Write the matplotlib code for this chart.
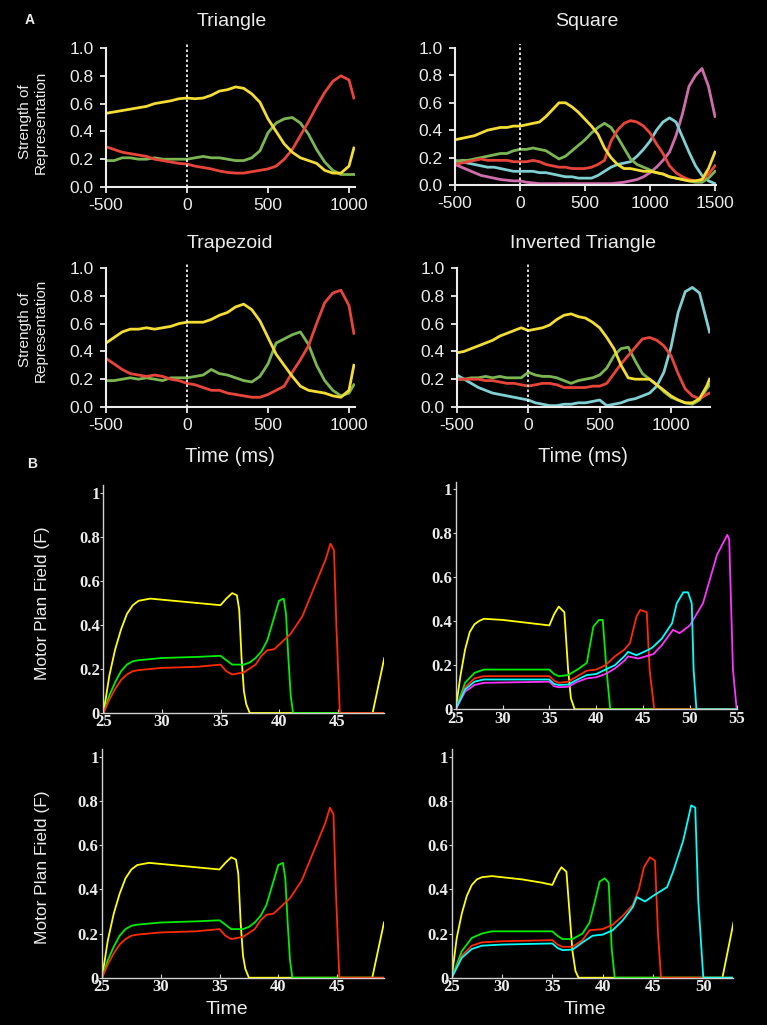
import matplotlib
matplotlib.use("Agg")
import matplotlib.pyplot as plt
import numpy as np

W, H = 767, 1025

# ---------------- Panel A data (time in ms) ----------------
tri_t = [-500, -450, -400, -350, -300, -250, -200, -150, -100, -50, 0, 50, 100, 150, 200, 250,
         300, 350, 400, 450, 500, 550, 600, 650, 700, 750, 800, 850, 900, 950, 1000, 1030]
tri_yellow = [.53, .54, .55, .56, .57, .58, .60, .61, .62, .635, .64, .635, .64, .66, .69, .70,
              .72, .71, .67, .61, .49, .40, .31, .25, .21, .19, .17, .12, .10, .10, .15, .28]
tri_red = [.29, .27, .25, .24, .23, .22, .20, .19, .18, .17, .165, .15, .14, .13, .115, .105,
           .10, .10, .11, .12, .13, .15, .20, .27, .37, .47, .58, .68, .76, .80, .77, .64]
tri_green = [.19, .19, .21, .21, .20, .20, .21, .20, .20, .20, .20, .21, .22, .21, .21, .20,
             .19, .19, .21, .26, .39, .46, .49, .50, .46, .38, .27, .18, .12, .09, .09, .09]

sq_t = [-500, -450, -400, -350, -300, -250, -200, -150, -100, -50, 0, 50, 100, 150, 200, 250,
        300, 350, 400, 450, 500, 550, 600, 650, 700, 750, 800, 850, 900, 950, 1000, 1050, 1100,
        1150, 1200, 1250, 1300, 1350, 1400, 1450, 1500]
sq_yellow = [.33, .34, .35, .36, .38, .40, .41, .42, .42, .43, .43, .44, .45, .46, .50, .55,
             .60, .60, .57, .53, .48, .43, .37, .27, .20, .15, .12, .12, .11, .10, .10, .09, .08,
             .06, .05, .04, .03, .03, .04, .12, .24]
sq_green = [.17, .18, .18, .19, .20, .21, .22, .23, .23, .25, .26, .26, .27, .26, .25, .22,
            .19, .21, .25, .29, .33, .38, .42, .45, .42, .35, .27, .19, .15, .13, .11, .09, .08,
            .06, .05, .04, .03, .02, .02, .05, .10]
sq_red = [.15, .16, .17, .18, .19, .18, .18, .18, .18, .17, .17, .17, .18, .17, .15, .14,
          .13, .13, .12, .12, .12, .13, .15, .18, .32, .40, .45, .47, .46, .43, .38, .30, .23,
          .14, .09, .06, .04, .03, .04, .08, .14]
sq_cyan = [.18, .17, .16, .15, .14, .13, .13, .12, .11, .10, .10, .10, .10, .09, .09, .08,
           .07, .06, .06, .05, .05, .05, .07, .10, .13, .15, .16, .17, .21, .26, .32, .40, .46,
           .49, .46, .35, .24, .14, .07, .03, .01]
sq_magenta = [.15, .13, .11, .09, .07, .06, .05, .04, .035, .03, .03, .02, .015, .01, .01, .01,
              .01, .01, .01, .01, .01, .01, .01, .01, .01, .015, .02, .03, .04, .06, .09, .13, .18,
              .24, .36, .52, .72, .80, .85, .72, .50]

trap_t = tri_t
trap_yellow = [.46, .50, .54, .56, .56, .57, .56, .57, .58, .60, .61, .61, .61, .63, .66, .68,
               .72, .74, .70, .62, .50, .38, .30, .22, .15, .12, .11, .10, .08, .07, .12, .30]
trap_red = [.35, .31, .27, .24, .23, .22, .23, .22, .20, .19, .17, .16, .14, .12, .12, .10,
            .09, .08, .07, .07, .09, .12, .15, .25, .34, .44, .60, .75, .82, .84, .73, .53]
trap_green = [.19, .19, .20, .21, .20, .21, .20, .19, .21, .21, .21, .22, .23, .27, .24, .23,
              .21, .19, .18, .22, .31, .46, .49, .52, .54, .45, .30, .19, .12, .08, .10, .16]

inv_t = [-500, -450, -400, -350, -300, -250, -200, -150, -100, -50, 0, 50, 100, 150, 200, 250,
         300, 350, 400, 450, 500, 550, 600, 650, 700, 750, 800, 850, 900, 950, 1000, 1050, 1100,
         1150, 1200, 1250, 1270]
inv_yellow = [.39, .40, .42, .44, .46, .48, .51, .53, .55, .57, .55, .56, .57, .59, .63, .66,
              .67, .65, .64, .61, .57, .50, .42, .30, .21, .20, .20, .20, .16, .12, .08, .05, .03,
              .03, .06, .15, .20]
inv_green = [.20, .20, .21, .21, .22, .21, .22, .21, .21, .21, .25, .23, .22, .22, .21, .19,
             .17, .19, .20, .21, .23, .28, .37, .42, .43, .33, .24, .20, .16, .11, .07, .05, .03,
             .02, .05, .13, .16]
inv_red = [.20, .20, .20, .20, .19, .19, .18, .17, .17, .16, .15, .16, .17, .17, .16, .14,
           .14, .14, .14, .15, .15, .17, .24, .31, .37, .43, .49, .50, .48, .44, .37, .24, .13,
           .08, .06, .09, .10]
inv_cyan = [.23, .20, .17, .14, .12, .10, .09, .08, .07, .06, .05, .03, .02, .01, .01, .02,
            .02, .03, .03, .04, .05, .01, .02, .03, .05, .06, .08, .10, .15, .25, .43, .68, .83,
            .86, .82, .62, .54]

a_xticks = [-500, 0, 500, 1000]
a_xticks_sq = [-500, 0, 500, 1000, 1500]
a_yticks = [0.0, 0.2, 0.4, 0.6, 0.8, 1.0]
a_titles = ['Triangle', 'Square', 'Trapezoid', 'Inverted Triangle']

# ---------------- Panel B data (model time) ----------------
m1_yellow_x = [25, 25.5, 26, 26.5, 27, 27.5, 28, 29, 30, 32, 34, 35, 35.5, 36, 36.4, 36.6, 36.8,
               37.0, 37.2, 37.5, 48.0, 49.0]
m1_yellow_y = [0, .17, .29, .38, .45, .49, .51, .52, .515, .505, .495, .49, .52, .545, .535, .47,
               .25, .10, .04, 0, 0, .25]
m1_green_x = [25, 25.5, 26, 26.5, 27, 27.5, 28, 30, 33, 35, 35.5, 36, 37, 37.5, 38, 38.5, 39,
              39.5, 40, 40.4, 40.6, 40.8, 41.0, 41.2, 49]
m1_green_y = [0, .08, .14, .19, .22, .235, .24, .25, .255, .26, .24, .22, .22, .23, .25, .28, .33,
              .42, .51, .52, .45, .25, .08, 0, 0]
m1_red_x = [25, 25.5, 26, 26.5, 27, 27.5, 28, 30, 33, 35, 35.5, 36, 37, 38, 38.5, 39, 39.6, 40,
            41, 42, 43, 44, 44.4, 44.7, 44.9, 45.2, 49]
m1_red_y = [0, .06, .11, .15, .175, .19, .195, .205, .21, .22, .19, .175, .185, .22, .26, .285, .29,
            .31, .36, .44, .57, .70, .77, .74, .40, 0, 0]

m2_yellow_x = [25, 25.5, 26, 26.5, 27, 27.5, 28, 30, 33, 35, 35.5, 36, 36.6, 37.0, 37.3, 37.7, 55]
m2_yellow_y = [0, .15, .27, .35, .385, .40, .41, .405, .39, .38, .43, .465, .44, .18, .05, 0, 0]
m2_green_x = [25, 26, 27, 28, 30, 35, 35.5, 36, 37, 38, 39, 39.7, 40.3, 40.7, 41.1, 41.5, 55]
m2_green_y = [0, .12, .165, .18, .18, .18, .16, .15, .155, .18, .21, .375, .405, .405, .18, 0, 0]
m2_red_x = [25, 26, 27, 28, 30, 35, 35.5, 36, 37, 38, 39, 40, 41, 42, 43, 43.6, 44.3, 44.7, 45.4,
            45.7, 46.2, 55]
m2_red_y = [0, .10, .14, .15, .15, .15, .13, .12, .125, .15, .175, .18, .20, .24, .27, .30, .42,
            .45, .44, .18, 0, 0]
m2_cyan_x = [25, 26, 27, 28, 35, 35.5, 36, 37, 38, 39, 40, 41, 42, 43, 43.4, 44.3, 45.6, 46, 47,
             48.1, 48.6, 49.3, 49.8, 50.2, 50.4, 50.7, 55]
m2_cyan_y = [0, .09, .125, .135, .135, .115, .11, .112, .135, .155, .16, .18, .20, .24, .26, .245,
             .27, .28, .32, .39, .48, .53, .53, .48, .18, 0, 0]
m2_magenta_x = [25, 26, 27, 28, 35, 35.5, 36, 37, 38, 39, 40, 41, 42, 43, 43.4, 44.5, 46.1, 47,
                48.2, 48.9, 50, 51.4, 52.9, 54, 54.2, 54.6, 55]
m2_magenta_y = [0, .08, .11, .12, .125, .105, .10, .102, .125, .14, .145, .16, .185, .22, .24, .23,
                .25, .29, .36, .345, .38, .48, .70, .79, .77, .18, 0]

m4_yellow_x = [25, 25.5, 26, 26.5, 27, 27.5, 28, 29, 30, 32, 34, 35, 35.5, 35.9, 36.4, 36.7, 37.0,
               37.3, 37.6, 51.9, 53]
m4_yellow_y = [0, .18, .29, .37, .42, .445, .455, .46, .455, .445, .43, .42, .47, .50, .48, .30,
               .12, .03, 0, 0, .25]
m4_green_x = [25, 26, 27, 28, 29, 35, 35.5, 36, 37, 38, 38.7, 39.2, 39.7, 40.2, 40.6, 40.9, 41.2, 53]
m4_green_y = [0, .12, .18, .20, .21, .21, .19, .175, .175, .20, .25, .34, .435, .45, .43, .13, 0, 0]
m4_red_x = [25, 26, 27, 28, 30, 35, 35.5, 36, 37, 38, 38.7, 40, 41, 42, 43, 43.6, 44.1, 44.7, 45.2,
            45.5, 45.8, 53]
m4_red_y = [0, .10, .145, .16, .165, .17, .15, .14, .14, .17, .215, .22, .24, .28, .33, .40, .50,
            .545, .53, .20, 0, 0]
m4_cyan_x = [25, 26, 27, 28, 30, 35, 35.5, 36, 37, 38, 39, 40, 41, 42, 43, 43.4, 44.2, 45, 46.4,
             47, 48, 48.8, 49.2, 49.5, 50.0, 53]
m4_cyan_y = [0, .09, .13, .145, .15, .155, .135, .125, .127, .16, .19, .195, .215, .26, .32, .365,
             .345, .37, .41, .48, .62, .78, .77, .35, 0, 0]

b_yticks = [0, 0.2, 0.4, 0.6, 0.8, 1]
b_yticklabels = ['0', '0.2', '0.4', '0.6', '0.8', '1']

# ---------------- styles ----------------
A_COL = {'yellow': '#f3dd33', 'red': '#e8453a', 'green': '#7cb653',
         'cyan': '#7fcfd3', 'magenta': '#cf6dac'}
B_COL = {'yellow': '#ffff00', 'red': '#ff2a00', 'green': '#00ee00',
         'cyan': '#00ffff', 'magenta': '#ff33ff'}
FG = '#ececec'
SANS = ['Liberation Sans', 'DejaVu Sans']
SERIF = ['Liberation Serif', 'DejaVu Serif']

plt.rcParams['font.family'] = SANS

fig = plt.figure(figsize=(W / 100, H / 100), dpi=100, facecolor='black')


def ftext(px, py, s, **kw):
    fig.text(px / W, 1 - py / H, s, color=FG, ha='center', va='center', **kw)


def axes_px(xa, pa, xb, pb, xlim, ya, qa, yb, qb, ylim):
    sx = (pb - pa) / (xb - xa)
    left = pa + (xlim[0] - xa) * sx
    right = pa + (xlim[1] - xa) * sx
    sy = (qb - qa) / (yb - ya)
    top = qa + (ylim[1] - ya) * sy
    bottom = qa + (ylim[0] - ya) * sy
    ax = fig.add_axes([left / W, 1 - bottom / H, (right - left) / W, (bottom - top) / H])
    ax.set_xlim(*xlim)
    ax.set_ylim(*ylim)
    ax.set_facecolor('black')
    return ax


def style_a(ax, xticks):
    for s in ['top', 'right']:
        ax.spines[s].set_visible(False)
    for s in ['left', 'bottom']:
        ax.spines[s].set_color(FG)
        ax.spines[s].set_linewidth(1.5)
    ax.set_xticks(xticks)
    ax.set_xticklabels([str(v) for v in xticks])
    ax.set_yticks(a_yticks)
    ax.set_yticklabels(['%.1f' % v for v in a_yticks])
    ax.tick_params(colors=FG, labelcolor=FG, labelsize=12.5, direction='out', length=4,
                   width=1.3)
    ax.tick_params(axis='y', pad=5)
    ax.tick_params(axis='x', pad=4)
    ax.axvline(0, color='white', lw=1.2, ls=(0, (1.5, 1.5)), ymin=0, ymax=1.03, clip_on=False)


def style_b(ax, xticks):
    for s in ['top', 'right']:
        ax.spines[s].set_visible(False)
    for s in ['left', 'bottom']:
        ax.spines[s].set_color('#d0d0d0')
        ax.spines[s].set_linewidth(1.0)
    ax.set_xticks(xticks)
    ax.set_xticklabels([str(v) for v in xticks], family=SERIF, weight='bold')
    ax.set_yticks(b_yticks)
    ax.set_yticklabels(b_yticklabels, family=SERIF, weight='bold')
    ax.tick_params(colors='#d0d0d0', labelcolor=FG, labelsize=12, length=3, width=0.8)
    ax.tick_params(axis='x', direction='in', pad=1)
    ax.tick_params(axis='y', direction='out', length=2, pad=0.5)


LW_A = 2.0
LW_B = 1.3

# ---- Panel A: Triangle ----
ax = axes_px(-500, 106, 1000, 349, (-500, 1035), 0, 187, 1, 48, (0, 1.0))
ax.plot(tri_t, tri_green, color=A_COL['green'], lw=LW_A)
ax.plot(tri_t, tri_red, color=A_COL['red'], lw=LW_A)
ax.plot(tri_t, tri_yellow, color=A_COL['yellow'], lw=LW_A)
style_a(ax, a_xticks)

# ---- Panel A: Square ----
ax = axes_px(-500, 455, 1500, 715, (-500, 1510), 0, 185, 1, 48, (0, 1.0))
ax.plot(sq_t, sq_magenta, color=A_COL['magenta'], lw=LW_A)
ax.plot(sq_t, sq_cyan, color=A_COL['cyan'], lw=LW_A)
ax.plot(sq_t, sq_green, color=A_COL['green'], lw=LW_A)
ax.plot(sq_t, sq_red, color=A_COL['red'], lw=LW_A)
ax.plot(sq_t, sq_yellow, color=A_COL['yellow'], lw=LW_A)
style_a(ax, a_xticks_sq)

# ---- Panel A: Trapezoid ----
ax = axes_px(-500, 106, 1000, 349, (-500, 1035), 0, 407, 1, 268, (0, 1.0))
ax.plot(trap_t, trap_green, color=A_COL['green'], lw=LW_A)
ax.plot(trap_t, trap_red, color=A_COL['red'], lw=LW_A)
ax.plot(trap_t, trap_yellow, color=A_COL['yellow'], lw=LW_A)
style_a(ax, a_xticks)

# ---- Panel A: Inverted Triangle ----
ax = axes_px(-500, 457, 1000, 671, (-500, 1275), 0, 407, 1, 268, (0, 1.0))
ax.plot(inv_t, inv_cyan, color=A_COL['cyan'], lw=LW_A)
ax.plot(inv_t, inv_green, color=A_COL['green'], lw=LW_A)
ax.plot(inv_t, inv_red, color=A_COL['red'], lw=LW_A)
ax.plot(inv_t, inv_yellow, color=A_COL['yellow'], lw=LW_A)
style_a(ax, a_xticks)

# Panel A texts
ftext(232, 22, a_titles[0], fontsize=14)
ftext(587, 22, a_titles[1], fontsize=14)
ftext(230, 243, a_titles[2], fontsize=14)
ftext(583, 243, a_titles[3], fontsize=14)
ftext(33, 122, 'Strength of\nRepresentation', fontsize=11, rotation=90, linespacing=1.1)
ftext(33, 330, 'Strength of\nRepresentation', fontsize=11, rotation=90, linespacing=1.1)
ftext(230, 457, 'Time (ms)', fontsize=14.5)
ftext(583, 457, 'Time (ms)', fontsize=14.5)

# ---- Panel B: top-left ----
ax = axes_px(25, 103.5, 45, 337.5, (25, 49.0), 0, 713, 0.8, 537, (0, 1.035))
ax.plot(m1_yellow_x, m1_yellow_y, color=B_COL['yellow'], lw=LW_B)
ax.plot(m1_green_x, m1_green_y, color=B_COL['green'], lw=LW_B)
ax.plot(m1_red_x, m1_red_y, color=B_COL['red'], lw=LW_B)
style_b(ax, [25, 30, 35, 40, 45])

# ---- Panel B: top-right ----
ax = axes_px(25, 455.7, 55, 736.7, (25, 55), 0, 709.3, 0.8, 532.7, (0, 1.03))
ax.plot(m2_yellow_x, m2_yellow_y, color=B_COL['yellow'], lw=LW_B)
ax.plot(m2_green_x, m2_green_y, color=B_COL['green'], lw=LW_B)
ax.plot(m2_red_x, m2_red_y, color=B_COL['red'], lw=LW_B)
ax.plot(m2_magenta_x, m2_magenta_y, color=B_COL['magenta'], lw=LW_B)
ax.plot(m2_cyan_x, m2_cyan_y, color=B_COL['cyan'], lw=LW_B)
style_b(ax, [25, 30, 35, 40, 45, 50, 55])

# ---- Panel B: bottom-left ----
ax = axes_px(25, 102, 45, 337, (25, 49.0), 0, 977.7, 0.8, 801, (0, 1.035))
ax.plot(m1_yellow_x, m1_yellow_y, color=B_COL['yellow'], lw=LW_B)
ax.plot(m1_green_x, m1_green_y, color=B_COL['green'], lw=LW_B)
ax.plot(m1_red_x, m1_red_y, color=B_COL['red'], lw=LW_B)
style_b(ax, [25, 30, 35, 40, 45])

# ---- Panel B: bottom-right ----
ax = axes_px(25, 451.7, 50, 703.3, (25, 53), 0, 977.7, 0.8, 801, (0, 1.035))
ax.plot(m4_yellow_x, m4_yellow_y, color=B_COL['yellow'], lw=LW_B)
ax.plot(m4_green_x, m4_green_y, color=B_COL['green'], lw=LW_B)
ax.plot(m4_red_x, m4_red_y, color=B_COL['red'], lw=LW_B)
ax.plot(m4_cyan_x, m4_cyan_y, color=B_COL['cyan'], lw=LW_B)
style_b(ax, [25, 30, 35, 40, 45, 50])

# Panel B texts
ftext(43, 603, 'Motor Plan Field (F)', fontsize=12.5, rotation=90)
ftext(43, 867, 'Motor Plan Field (F)', fontsize=12.5, rotation=90)
ftext(227, 1009, 'Time', fontsize=14)
ftext(585, 1009, 'Time', fontsize=14)

# panel letters
ftext(30, 20, 'A', fontsize=10, weight='bold')
ftext(32, 464, 'B', fontsize=10, weight='bold')

fig.savefig('out.png', dpi=100, facecolor='black')
